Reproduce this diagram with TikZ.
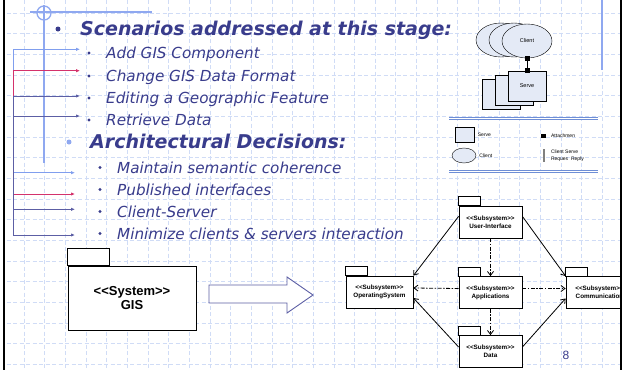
\documentclass[tikz,border=0pt]{standalone}
\usepackage{fontspec}
\setmainfont{DejaVu Sans}
\newfontfamily\umlfont{Liberation Sans}
\usetikzlibrary{shapes.geometric,arrows.meta}
\definecolor{slideblue}{RGB}{57,60,140}
\definecolor{gridblue}{RGB}{208,220,246}
\definecolor{decoblue}{RGB}{143,168,240}
\definecolor{linklight}{RGB}{128,158,238}
\definecolor{linkred}{RGB}{212,50,108}
\definecolor{linkdark}{RGB}{92,94,164}
\definecolor{palefill}{RGB}{228,234,246}
\definecolor{ruleblue}{RGB}{110,142,214}
\newcommand{\stereo}[1]{<\kern0pt<#1>\kern0pt>}
\tikzset{
	gridline/.style={draw=gridblue, line width=0.6pt, dash pattern=on 4pt off 2.5pt},
	deco/.style={draw=decoblue, line width=1.3pt},
	head/.style={anchor=base west, inner sep=0pt, text=slideblue, font=\bfseries\itshape\fontsize{19}{22}\selectfont},
	item/.style={anchor=base west, inner sep=0pt, text=slideblue, font=\itshape\fontsize{15.2}{18}\selectfont},
	bigdot/.style={circle, fill=slideblue, inner sep=0pt, minimum size=5pt},
	smalldot/.style={circle, fill=slideblue, inner sep=0pt, minimum size=3.3pt},
	trace/.style={line width=0.8pt, {Latex[length=4pt,width=3.4pt]}-{Latex[length=4pt,width=3.4pt]}},
	clientell/.style={ellipse, draw, fill=palefill, minimum width=50pt, minimum height=34pt, inner sep=0pt, font=\umlfont\fontsize{5.5}{6}\selectfont},
	servbox/.style={rectangle, draw, fill=palefill, minimum width=38pt, minimum height=30pt, inner sep=0pt, font=\umlfont\fontsize{5.5}{6}\selectfont},
	attach/.style={rectangle, fill=black, inner sep=0pt, minimum size=5pt},
	tinytext/.style={anchor=west, inner sep=0pt, align=left, font=\umlfont\fontsize{5}{6.5}\selectfont},
	legendrule/.style={draw=ruleblue, line width=0.9pt, double=white, double distance=1.2pt},
	pkg/.style={rectangle, draw, fill=white, line width=0.8pt, minimum width=63pt, minimum height=32pt, inner sep=1pt, align=center, font=\umlfont\bfseries\fontsize{6.3}{8}\selectfont},
	syspkg/.style={pkg, line width=0.9pt, minimum width=128pt, minimum height=64pt, font=\umlfont\bfseries\fontsize{13}{14}\selectfont},
	dep/.style={line width=0.8pt, -{Straight Barb[length=4pt,width=6pt]}},
	dashdep/.style={dash pattern=on 4pt off 1.5pt on 1.5pt off 1.5pt},
	bigarrow/.style={draw=linkdark, fill=white, line width=0.9pt, line join=miter}
}
\begin{document}
\begin{tikzpicture}[x=1pt,y=-1pt]
	\useasboundingbox (0,0) rectangle (626,370);
	\fill[white] (0,0) rectangle (626,370);
	\begin{scope}
		\clip (5,0) rectangle (620,370);
		\foreach \i in {0,...,30}
			\draw[gridline] ({3.4+20.65*\i},0) -- ({3.4+20.65*\i},370);
		\foreach \i in {0,...,18}
			\draw[gridline] (0,{-7.6+20.65*\i}) -- (626,{-7.6+20.65*\i});
	\end{scope}
	\draw[deco] (44,5) -- (44,163);
	\draw[deco] (30,12) -- (152,12);
	\draw[deco] (44,13) circle (7);
	\draw[deco] (602,0) -- (602,70);

	\node[bigdot] (h1dot) at (58,29) {};
	\node[head] (h1) at (80,35) {Scenarios addressed at this stage:};
	\foreach \y/\t [count=\i] in {58/Add GIS Component, 81/Change GIS Data Format, 103/Editing a Geographic Feature, 125/Retrieve Data} {
		\node[smalldot] (sdot\i) at (89,\y-5) {};
		\node[item] (scen\i) at (106,\y) {\t};
	}
	\node[bigdot, fill=decoblue] (h2dot) at (69,142) {};
	\node[head] (h2) at (90,148) {Architectural Decisions:};
	\foreach \y/\t [count=\i] in {173/Maintain semantic coherence, 195/Published interfaces, 217/Client-Server, 239/Minimize clients \& servers interaction} {
		\node[smalldot] (ddot\i) at (100,\y-5.5) {};
		\node[item] (dec\i) at (117,\y) {\t};
	}
	\foreach \a/\b/\c [count=\i] in {49.3/172.7/linklight, 70.7/194/linkred, 96/209.3/linkdark, 116/235/linkdark} {
		\coordinate (stip\i) at (80,\a);
		\coordinate (dtip\i) at (75,\b);
		\draw[trace, color=\c] (stip\i) -- (13,\a) |- (dtip\i);
	}

	\node[clientell] (cl1) at (501,40) {};
	\node[clientell] (cl2) at (514,40) {};
	\node[clientell] (cl3) at (527,41) {Client};
	\node[servbox] (sv1) at (501,94) {};
	\node[servbox] (sv2) at (514,90) {};
	\node[servbox] (sv3) at (527,86) {Serve};
	\node[attach] (at1) at (cl3.south) {};
	\node[attach] (at2) at (sv3.north) {};
	\draw[line width=0.8pt] (at1) -- (at2);

	\draw[legendrule] (449,118.2) -- (598,118.2);
	\draw[legendrule] (449,171.2) -- (598,171.2);
	\node[servbox, minimum width=19pt, minimum height=15pt] (lgsv) at (465,134.5) {};
	\node[tinytext] (lgsvt) at ([xshift=3pt]lgsv.east) {Serve};
	\node[clientell, minimum width=24pt, minimum height=15pt] (lgcl) at (464,155.5) {};
	\node[tinytext] (lgclt) at ([xshift=3pt]lgcl.east) {Client};
	\node[attach, minimum size=4.5pt] (lgat) at (543.5,136) {};
	\node[tinytext] (lgatt) at ([xshift=5pt]lgat.east) {Attachmen};
	\node[fill=gray, inner sep=0pt, minimum width=1.2pt, minimum height=13pt] (lgrq) at (544,155.5) {};
	\node[tinytext] (lgrqt) at ([xshift=6pt]lgrq.east) {Client Serve\\Reques\ \ Reply};

	\node[pkg] (ui) at (490.5,222) {\stereo{Subsystem}\\User-Interface};
	\node[pkg, minimum width=67pt] (os) at (379.5,292) {\stereo{Subsystem}\\OperatingSystem};
	\node[pkg] (app) at (490.5,292.5) {\stereo{Subsystem}\\Applications};
	\node[pkg, minimum width=67pt] (comm) at (599.5,292.5) {\stereo{Subsystem}\\Communication};
	\node[pkg] (data) at (490.5,351.5) {\stereo{Subsystem}\\Data};
	\foreach \n in {ui,os,app,comm,data}
		\draw[fill=white, line width=0.8pt] (\n.north west) rectangle ++(22,-9);
	\draw[dep] (ui.170) -- (os.north east);
	\draw[dep] (ui.10) -- (comm.north west);
	\draw[dep, dashdep] (ui) -- (app);
	\draw[dep, dashdep] ([yshift=4pt]app.west) -- ([yshift=4pt]os.east);
	\draw[dep, dashdep] ([yshift=4pt]app.east) -- ([yshift=4pt]comm.west);
	\draw[dep, dashdep] (app) -- (data);
	\draw[dep] (data.172) -- (os.-10);
	\draw[dep] (data.8) -- (comm.190);

	\node[syspkg] (gis) at (132,298) {\stereo{System}\\GIS};
	\draw[fill=white, line width=0.9pt] (gis.north west) rectangle ++(42,-17);
	\draw[bigarrow] (209,285) -- (287,285) -- (287,277) -- (313,295) -- (287,313) -- (287,303) -- (209,303) -- cycle;

	\node[text=slideblue, font=\umlfont\fontsize{12}{14}\selectfont] (pgnum) at (566,355) {8};

	\fill[white] (622.2,0) rectangle (626,370);
	\draw[line width=2.5pt] (4,0) -- (4,370);
	\draw[line width=2.5pt] (621,0) -- (621,370);
\end{tikzpicture}
\end{document}
